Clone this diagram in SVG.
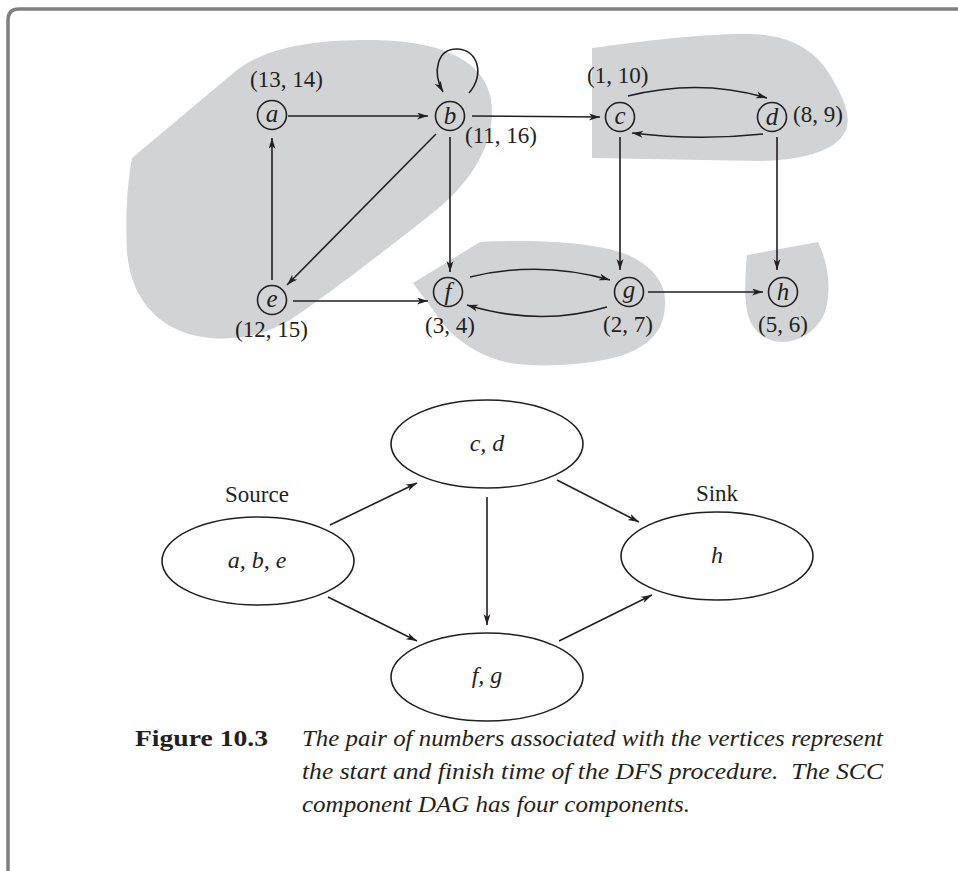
<svg xmlns="http://www.w3.org/2000/svg" width="958" height="871" viewBox="0 0 958 871">
<style>
.blob{fill:#d1d3d4;stroke:none}
.nd{fill:none;stroke:#231f20;stroke-width:1.6}
.el{fill:#fff;stroke:#231f20;stroke-width:1.6}
.ed{fill:none;stroke:#231f20;stroke-width:1.6;marker-end:url(#ah)}
.lb{font-family:"Liberation Serif",serif;font-size:23px;fill:#231f20}
.it{font-family:"Liberation Serif",serif;font-size:24px;font-style:italic;fill:#231f20;text-anchor:middle}
.nl{font-family:"Liberation Serif",serif;font-size:25px;font-style:italic;fill:#231f20;text-anchor:middle}
.cap{font-family:"Liberation Serif",serif;font-size:23px;font-style:italic;fill:#231f20}
</style>
<defs>
<marker id="ah" markerUnits="userSpaceOnUse" markerWidth="12" markerHeight="8" refX="11" refY="3.5" orient="auto">
<path d="M0,0 L11,3.5 L0,7 L3,3.5 Z" fill="#231f20"/>
</marker>
</defs>
<path d="M8,871 L8,20 Q8,9 19,9 L958,9" fill="none" stroke="#808080" stroke-width="3.5"/>
<g id="components">
<path class="blob" d="M132,158 L237,70 C270,45 320,40 370,40 C430,40 480,55 490,95 C500,140 470,185 430,215 C380,255 320,300 290,320 C260,338 230,340 210,338 C160,333 130,300 127,250 C125,210 128,180 132,158 Z"/>
<path class="blob" d="M592,48 C650,40 710,33 750,34 C790,35 815,50 830,75 C845,100 852,118 845,132 C835,152 800,160 760,161 L592,158 Z"/>
<path class="blob" d="M413,283 L480,242 C520,240 580,240 620,252 C650,262 665,282 665,300 C666,325 655,345 620,356 C590,365 540,368 510,363 C480,357 455,340 440,320 C430,305 420,293 413,283 Z"/>
<path class="blob" d="M747,255 L818,242 C828,262 832,290 825,312 C818,330 800,342 782,342 C765,342 752,330 748,315 C744,300 745,275 747,255 Z"/>
</g>
<g id="connectors">
<line class="ed" x1="288" y1="116" x2="428" y2="116"/>
<path class="ed" d="M469,93 C485,75 478,50 458,49 C437,48 432,72 443,92"/>
<line class="ed" x1="472" y1="116" x2="600" y2="117"/>
<line class="ed" x1="436" y1="134" x2="287" y2="285"/>
<line class="ed" x1="450" y1="137" x2="450" y2="272"/>
<line class="ed" x1="272" y1="280" x2="272" y2="138"/>
<line class="ed" x1="293" y1="301" x2="428" y2="301"/>
<path class="ed" d="M628,96 Q700,78 767,98"/>
<path class="ed" d="M763,134 Q697,141 632,133"/>
<line class="ed" x1="620" y1="137" x2="620" y2="270"/>
<line class="ed" x1="777" y1="137" x2="777" y2="270"/>
<path class="ed" d="M470,277 Q540,260 610,280"/>
<path class="ed" d="M607,307 Q540,327 467,305"/>
<line class="ed" x1="648" y1="292" x2="763" y2="292"/>
<line class="ed" x1="330" y1="525" x2="417" y2="483"/>
<line class="ed" x1="328" y1="597" x2="417" y2="641"/>
<line class="ed" x1="487" y1="497" x2="487" y2="625"/>
<line class="ed" x1="557" y1="480" x2="639" y2="522"/>
<line class="ed" x1="559" y1="641" x2="652" y2="595"/>
</g>
<g id="node-a"><circle class="nd" cx="272" cy="115" r="14.5"/><text class="nl" x="272" y="122">a</text><text class="lb" x="250" y="87">(13, 14)</text></g>
<g id="node-b"><circle class="nd" cx="450" cy="116" r="14.5"/><text class="nl" x="450" y="124">b</text><text class="lb" x="465" y="143">(11, 16)</text></g>
<g id="node-c"><circle class="nd" cx="620" cy="117" r="14.5"/><text class="nl" x="620" y="124">c</text><text class="lb" x="587" y="83">(1, 10)</text></g>
<g id="node-d"><circle class="nd" cx="772" cy="117" r="14.5"/><text class="nl" x="772" y="125">d</text><text class="lb" x="793" y="122">(8, 9)</text></g>
<g id="node-e"><circle class="nd" cx="272" cy="300" r="14.5"/><text class="nl" x="272" y="307">e</text><text class="lb" x="235" y="337">(12, 15)</text></g>
<g id="node-f"><circle class="nd" cx="448" cy="292" r="14.5"/><text class="nl" x="448" y="300">f</text><text class="lb" x="425" y="333">(3, 4)</text></g>
<g id="node-g"><circle class="nd" cx="629" cy="292" r="14.5"/><text class="nl" x="629" y="298">g</text><text class="lb" x="603" y="332">(2, 7)</text></g>
<g id="node-h"><circle class="nd" cx="783" cy="292" r="14.5"/><text class="nl" x="783" y="300">h</text><text class="lb" x="758" y="332">(5, 6)</text></g>
<g id="scc-abe"><ellipse class="el" cx="258" cy="561" rx="96" ry="44"/><text class="it" x="257" y="568">a, b, e</text><text class="lb" x="257" y="502" text-anchor="middle" font-size="25">Source</text></g>
<g id="scc-cd"><ellipse class="el" cx="487" cy="444" rx="96" ry="44"/><text class="it" x="487" y="451">c, d</text></g>
<g id="scc-fg"><ellipse class="el" cx="487" cy="677" rx="96" ry="44"/><text class="it" x="487" y="683">f, g</text></g>
<g id="scc-h"><ellipse class="el" cx="717" cy="556" rx="96" ry="44"/><text class="it" x="717" y="563">h</text><text class="lb" x="717" y="501" text-anchor="middle" font-size="25">Sink</text></g>
<g id="caption">
<text class="lb" x="135" y="746" font-weight="bold" textLength="133" lengthAdjust="spacingAndGlyphs">Figure 10.3</text>
<text class="cap" x="302" y="746" textLength="581" lengthAdjust="spacingAndGlyphs">The pair of numbers associated with the vertices represent</text>
<text class="cap" x="302" y="779" textLength="581" lengthAdjust="spacingAndGlyphs" xml:space="preserve">the start and finish time of the DFS procedure.  The SCC</text>
<text class="cap" x="302" y="812" textLength="388" lengthAdjust="spacingAndGlyphs">component DAG has four components.</text>
</g>
</svg>
